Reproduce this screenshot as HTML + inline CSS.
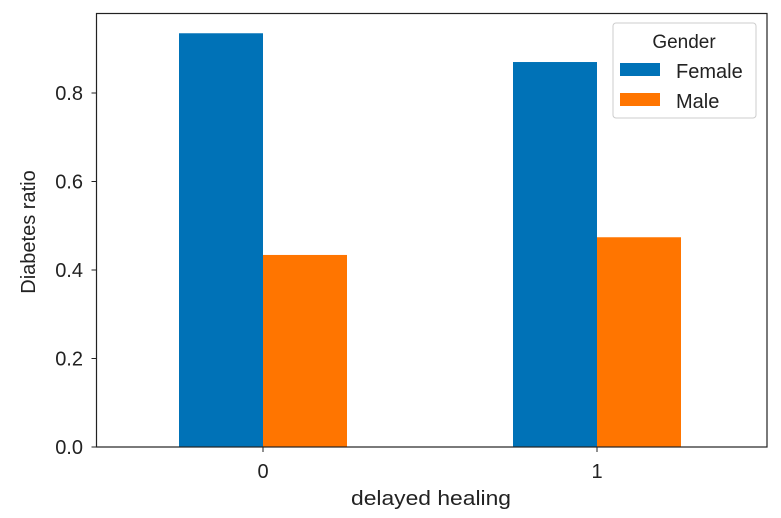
<!DOCTYPE html>
<html><head><meta charset="utf-8"><style>
body{margin:0;background:#fff;}
svg{display:block;font-family:"Liberation Sans","DejaVu Sans",sans-serif;}
</style></head><body>
<svg id="chart" width="781" height="518"></svg>
<script>
const categories = ["0", "1"];
const femaleValues = [0.935, 0.870];
const maleValues = [0.434, 0.474];
const yTicks = [0.0, 0.2, 0.4, 0.6, 0.8];
const yTickLabels = ["0.0", "0.2", "0.4", "0.6", "0.8"];

const NS = "http://www.w3.org/2000/svg";
const svg = document.getElementById("chart");
const L = 96.5, R = 767, T = 13.5, B = 447;
const yPerUnit = 442.5;
function yScale(v){ return B - v * yPerUnit; }
const catStep = 334, cat0 = 263, barW = 84;
function xScale(i){ return cat0 + i * catStep; }
function mk(tag, attrs){ const e = document.createElementNS(NS, tag); for (const k in attrs) e.setAttribute(k, attrs[k]); svg.appendChild(e); return e; }

const series = [
  {name: "female", vals: femaleValues, color: "#0072b7", off: -barW},
  {name: "male", vals: maleValues, color: "#ff7500", off: 0}
];
series.forEach(s => {
  s.vals.forEach((v, i) => {
    const r = mk("rect", {x: xScale(i) + s.off, y: yScale(v), width: barW, height: B - yScale(v), fill: s.color});
    
    
  });
});

const frame = mk("rect", {x: L, y: T, width: R - L, height: B - T, fill: "none", stroke: "#222", "stroke-width": 1.2});



yTicks.forEach((v, i) => {
  const y = yScale(v);
  const t = mk("line", {x1: L - 5, x2: L, y1: y, y2: y, stroke: "#222"});
  
  
  const tx = mk("text", {x: 83, y: y + 7, "text-anchor": "end", "font-size": 20, fill: "#222"});
  tx.textContent = yTickLabels[i];
  
  
});
categories.forEach((c, i) => {
  const x = xScale(i);
  const t = mk("line", {x1: x, x2: x, y1: B, y2: B + 5, stroke: "#222"});
  
  
  const tx = mk("text", {x: x, y: 478, "text-anchor": "middle", "font-size": 20, fill: "#222"});
  tx.textContent = c;
  
  
});

const xt = mk("text", {x: 431, y: 505, "text-anchor": "middle", "font-size": 20, fill: "#222", textLength: 160, lengthAdjust: "spacingAndGlyphs"});
xt.textContent = "delayed healing";


const yt = mk("text", {x: 0, y: 0, "text-anchor": "middle", "font-size": 20, fill: "#222", transform: "translate(35,232) rotate(-90)"});
yt.textContent = "Diabetes ratio";



const lg = mk("rect", {x: 613, y: 23, width: 143, height: 95, rx: 3, fill: "#fff", "fill-opacity": 0.8, stroke: "#ccc"});


const lt = mk("text", {x: 684, y: 48, "text-anchor": "middle", "font-size": 19, fill: "#222"});
lt.textContent = "Gender";


const legendNames = ["Female", "Male"];
series.forEach((s, i) => {
  const y = 63 + i * 30;
  const sw = mk("rect", {x: 620, y: y, width: 40, height: 13, fill: s.color});
  
  
  const tx = mk("text", {x: 676, y: y + 15, "font-size": 20, fill: "#222"});
  tx.textContent = legendNames[i];
  
  
});
</script>
</body></html>
